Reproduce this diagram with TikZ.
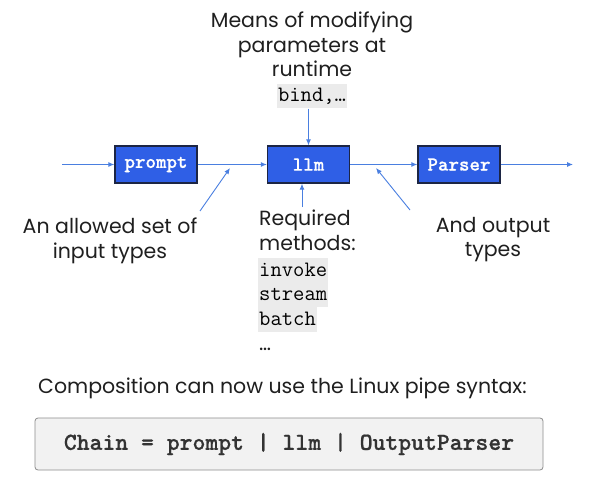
\documentclass[tikz,border=0pt]{standalone}
\usepackage{fontspec}
\setmainfont{Poppins}
\newfontfamily\heavymono{lmmonolt10-bold}[Extension=.otf,FakeBold=0.7]
\usetikzlibrary{arrows.meta,positioning}
\definecolor{boxblue}{HTML}{2F5FE6}
\definecolor{boxedge}{HTML}{1C2544}
\definecolor{linkblue}{HTML}{4A7FE0}
\definecolor{codegray}{HTML}{EBEBEB}
\definecolor{chainfill}{HTML}{F2F2F2}
\tikzset{
  stage/.style={draw=boxedge,line width=1.3pt,fill=boxblue,text=white,
    font=\heavymono\fontsize{20}{22}\selectfont,
    minimum width=82pt,minimum height=37pt,inner sep=0pt},
  link/.style={draw=linkblue,line width=0.9pt,-{Latex[length=6pt,width=5pt]}},
  note/.style={align=center,inner sep=0pt,text=black!88,
    font=\fontsize{20.5}{24.5}\selectfont},
  code/.style={fill=codegray,inner xsep=1pt,inner ysep=0pt,
    text height=18pt,text depth=6.5pt,font=\ttfamily\fontsize{22}{24.5}\selectfont},
  chainbox/.style={draw=black!45,line width=0.8pt,rounded corners=3pt,fill=chainfill,
    minimum width=508pt,minimum height=52pt,
    font=\heavymono\fontsize{24.5}{26}\selectfont,text=black!80}
}
\begin{document}
\begin{tikzpicture}[x=1pt,y=-1pt]
  \useasboundingbox (0,0) rectangle (596,489);
  % pipeline
  \node[stage] (prompt) at (156,164.5) {prompt};
  \node[stage] (llm) at (308.5,164.5) {llm};
  \node[stage] (parser) at (459,164.5) {Parser};
  \coordinate (in) at (62,164.5);
  \coordinate (out) at (573,164.5);
  \draw[link] (in) -- (prompt);
  \draw[link] (prompt) -- (llm);
  \draw[link] (llm) -- (parser);
  \draw[link] (parser) -- (out);
  % runtime parameters
  \node[note,anchor=north] (means) at (312,12) {Means of modifying\\parameters at\\runtime};
  \node[code,anchor=base] (bind) at (312,102) {bind,…};
  \draw[link] (bind.south -| llm.north) -- (llm.north);
  % input types
  \node[note,anchor=north] (intypes) at (110,218) {An allowed set of\\input types};
  \coordinate (intip) at (230,168);
  \coordinate (infoot) at (200,211);
  \draw[link] (infoot) -- (intip);
  % required methods
  \node[note,anchor=north west,align=left] (methods) at (259,210) {Required\\methods:};
  \node[code,anchor=base west] (invoke) at (258,276) {invoke};
  \node[code,anchor=base west] (stream) at (258,300.5) {stream};
  \node[code,anchor=base west] (batch) at (258,325) {batch};
  \node[note,anchor=base west] (more) at (259,350) {…};
  \coordinate (methfoot) at (302,207);
  \draw[link] (methfoot) -- (methfoot |- llm.south);
  % output types
  \node[note,anchor=north] (outtypes) at (493,217) {And output\\types};
  \coordinate (outtip) at (376,168);
  \coordinate (outfoot) at (410,210);
  \draw[link] (outfoot) -- (outtip);
  % composition
  \node[note,anchor=base west] (compose) at (38,393) {Composition can now use the Linux pipe syntax:};
  \node[chainbox] (chain) at (289,444) {Chain = prompt | llm | OutputParser};
\end{tikzpicture}
\end{document}
